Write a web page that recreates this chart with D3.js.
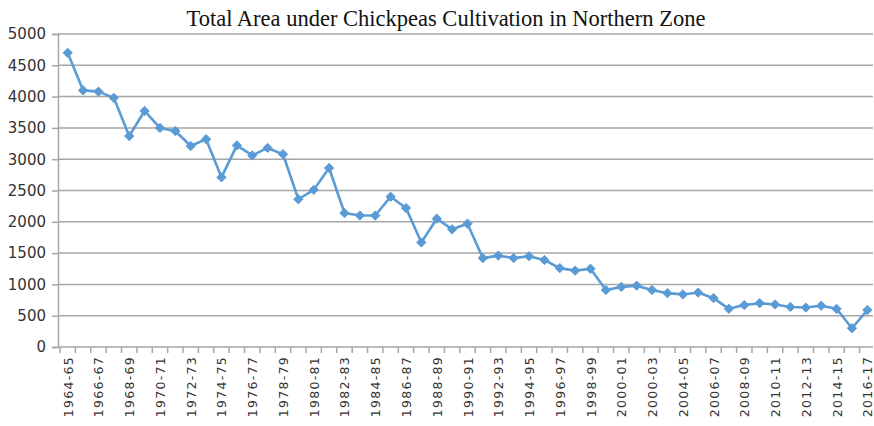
<!DOCTYPE html>
<html>
<head>
<meta charset="utf-8">
<script src="https://cdn.jsdelivr.net/npm/d3@7"></script>
<style>
html,body{margin:0;padding:0;background:#fff;}
svg{display:block;}
</style>
</head>
<body>
<svg id="chart" width="874" height="426"></svg>
<script>
const title = "Total Area under Chickpeas Cultivation in Northern Zone";
const categories = ["1964-65","1965-66","1966-67","1967-68","1968-69","1969-70","1970-71","1971-72","1972-73","1973-74","1974-75","1975-76","1976-77","1977-78","1978-79","1979-80","1980-81","1981-82","1982-83","1983-84","1984-85","1985-86","1986-87","1987-88","1988-89","1989-90","1990-91","1991-92","1992-93","1993-94","1994-95","1995-96","1996-97","1997-98","1998-99","1999-00","2000-01","2001-02","2002-03","2003-04","2004-05","2005-06","2006-07","2007-08","2008-09","2009-10","2010-11","2011-12","2012-13","2013-14","2014-15","2015-16","2016-17"];
const tickLabels = ["1964-65","1966-67","1968-69","1970-71","1972-73","1974-75","1976-77","1978-79","1980-81","1982-83","1984-85","1986-87","1988-89","1990-91","1992-93","1994-95","1996-97","1998-99","2000-01","2000-03","2004-05","2006-07","2008-09","2010-11","2012-13","2014-15","2016-17"];
const area = [4700,4100,4080,3980,3370,3770,3500,3450,3210,3320,2710,3220,3060,3180,3080,2360,2510,2860,2140,2100,2100,2400,2220,1670,2050,1880,1970,1420,1460,1420,1450,1390,1260,1220,1250,910,960,980,910,860,840,870,780,610,670,700,680,640,630,660,610,300,590];
const yTicks = [0,500,1000,1500,2000,2500,3000,3500,4000,4500,5000];

(function(){
const svg = d3.select("#chart");
const mL = 58, mR = 873, mT = 34, mB = 347;

const x = d3.scaleBand().domain(categories).range([mL + 2, mR + 2]);
const y = d3.scaleLinear().domain([0, 5000]).range([mB, mT]);

// gridlines
svg.append("g").selectAll("line").data(yTicks.filter(d => d > 0)).join("line")
  .attr("x1", mL).attr("x2", mR)
  .attr("y1", d => y(d)).attr("y2", d => y(d))
  .attr("stroke", "#a6a6a6").attr("stroke-width", 1.5);

// y axis
const yAxis = svg.append("g").attr("transform", `translate(${mL},0)`)
  .call(d3.axisLeft(y).tickValues(yTicks).tickSize(6).tickPadding(6).tickFormat(d3.format("d")));
yAxis.select(".domain").attr("stroke", "#a6a6a6").attr("stroke-width", 1.5);
yAxis.selectAll(".tick line").attr("stroke", "#a6a6a6").attr("stroke-width", 1.5);
yAxis.selectAll(".tick text").attr("font-family", "DejaVu Sans").attr("font-size", 15).attr("fill", "#333");

// x axis
const xg = svg.append("g").attr("transform", `translate(0,${mB})`);
xg.append("line").attr("x1", mL).attr("x2", mR).attr("y1", 0).attr("y2", 0)
  .attr("stroke", "#a6a6a6").attr("stroke-width", 1.5);
const bounds = categories.map(c => x(c)).concat([x(categories[categories.length-1]) + x.bandwidth()]).filter(b => b <= mR);
xg.selectAll("line.tk").data(bounds).join("line").attr("class","tk")
  .attr("x1", d => d).attr("x2", d => d).attr("y1", 0).attr("y2", 6)
  .attr("stroke", "#a6a6a6").attr("stroke-width", 1.5);
const labelCats = categories.filter((c, i) => i % 2 === 0);
xg.selectAll("text").data(labelCats).join("text")
  .attr("transform", (c) => `translate(${x(c) + x.bandwidth()/2 + 5},9) rotate(-90)`)
  .attr("text-anchor", "end")
  .attr("font-family", "DejaVu Sans").attr("font-size", 12.5)
  .attr("letter-spacing", 1.3)
  .attr("fill", "#333")
  .text((c, i) => tickLabels[i]);

// line
const cx = c => x(c) + x.bandwidth()/2;
svg.append("path").datum(area)
  .attr("fill", "none").attr("stroke", "#5b9bd5").attr("stroke-width", 2.6)
  .attr("stroke-linejoin", "round")
  .attr("d", d3.line().x((d, i) => cx(categories[i])).y(d => y(d)));

// markers
svg.append("g").selectAll("path").data(area).join("path")
  .attr("transform", (d, i) => `translate(${cx(categories[i])},${y(d)})`)
  .attr("d", d3.symbol().type(d3.symbolDiamond2).size(55))
  .attr("fill", "#5b9bd5").attr("stroke", "#5b9bd5").attr("stroke-width", 1);

// title
svg.append("text").attr("x", 446).attr("y", 26).attr("text-anchor", "middle")
  .attr("font-family", "Liberation Serif").attr("font-size", 22.5).attr("fill", "#111")
  .text(title);
})();
</script>
</body>
</html>
